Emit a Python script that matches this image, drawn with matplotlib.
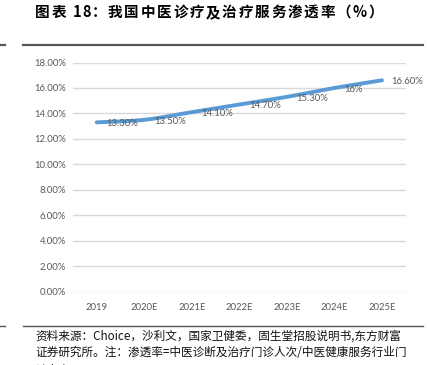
import matplotlib
matplotlib.use("Agg")
import matplotlib.pyplot as plt
from matplotlib.path import Path
from matplotlib.patches import PathPatch
from matplotlib.lines import Line2D
import numpy as np

years = ["2019", "2020E", "2021E", "2022E", "2023E", "2024E", "2025E"]
rates = [0.133, 0.135, 0.141, 0.147, 0.153, 0.16, 0.166]
labels = ["13.30%", "13.50%", "14.10%", "14.70%", "15.30%", "16%", "16.60%"]
yticks = [0.0, 0.02, 0.04, 0.06, 0.08, 0.10, 0.12, 0.14, 0.16, 0.18]

title = "图表 18：我国中医诊疗及治疗服务渗透率（%）"
src1 = "资料来源：Choice，沙利文，国家卫健委，固生堂招股说明书,东方财富"
src2 = "证券研究所。注：渗透率=中医诊断及治疗门诊人次/中医健康服务行业门"
src3 = "诊人次"

cjk = ["Noto Sans CJK SC", "DejaVu Sans"]
num_font = "Lato"
grey = "#595959"

W, H = 430, 365
fig = plt.figure(figsize=(W / 100, H / 100), dpi=100)

def fx(px):
    return px / W

def fy(py):
    return 1 - py / H

ax = fig.add_axes([fx(73), fy(291.7), fx(405.75 - 73), fy(62.5) - fy(291.7)])
ax.set_xlim(-0.5, len(years) - 0.5)
ax.set_ylim(0, 0.18)
for s in ax.spines.values():
    s.set_visible(False)
ax.set_yticks(yticks)
ax.set_yticklabels([f"{v*100:.2f}%" for v in yticks], fontfamily=num_font,
                   fontsize=6.8, color=grey)
ax.set_xticks(range(len(years)))
ax.set_xticklabels(years, fontfamily=num_font, fontsize=6.8, color=grey)
ax.tick_params(axis="both", length=0)
ax.tick_params(axis="y", pad=5)
ax.tick_params(axis="x", pad=8)
ax.grid(axis="y", color="#D9D9D9", linewidth=1.0)
ax.set_axisbelow(True)

# smooth line (Catmull-Rom -> cubic Bezier) through the data points
xs = np.arange(len(rates), dtype=float)
ys = np.array(rates)
pts = np.column_stack([xs, ys])
verts = [tuple(pts[0])]
codes = [Path.MOVETO]
n = len(pts)
for i in range(n - 1):
    p0 = pts[max(i - 1, 0)]
    p1 = pts[i]
    p2 = pts[i + 1]
    p3 = pts[min(i + 2, n - 1)]
    c1 = p1 + (p2 - p0) / 6
    c2 = p2 - (p3 - p1) / 6
    verts += [tuple(c1), tuple(c2), tuple(p2)]
    codes += [Path.CURVE4] * 3
patch = PathPatch(Path(verts, codes), facecolor="none", edgecolor="#5B9BD5",
                  linewidth=2.8, capstyle="round", zorder=3)
ax.add_patch(patch)

for i, (v, lab) in enumerate(zip(rates, labels)):
    ax.annotate(lab, (i, v), xytext=(7, -1), textcoords="offset points",
                ha="left", va="center", fontfamily=num_font, fontsize=6.8,
                color=grey, zorder=4)

# title, letter-spaced: place characters one after another
renderer = fig.canvas.get_renderer()
x_px = 35.0
extra = 1.7
for ch in title:
    t = fig.text(fx(x_px), fy(12), ch, fontfamily=cjk, fontsize=10.5,
                 fontweight="bold", ha="left", va="center", color="#000000")
    if ch == " ":
        w = 3.5
    elif ch in "18":
        w = t.get_window_extent(renderer=renderer).width - 1.0
    else:
        w = t.get_window_extent(renderer=renderer).width
    x_px += w + extra

# rules
for yy, lw in [(45, 1.6), (326, 1.0)]:
    fig.add_artist(Line2D([fx(23), fx(423)], [fy(yy), fy(yy)], color="#555555",
                          linewidth=lw))
    fig.add_artist(Line2D([fx(0), fx(5)], [fy(yy), fy(yy)], color="#555555",
                          linewidth=lw))

# source notes
for txt, yy in [(src1, 336), (src2, 353), (src3, 370)]:
    fig.text(fx(35), fy(yy), txt, fontfamily=cjk, fontsize=8.4, ha="left",
             va="center", color="#111111")

fig.savefig("out.png", dpi=100)
